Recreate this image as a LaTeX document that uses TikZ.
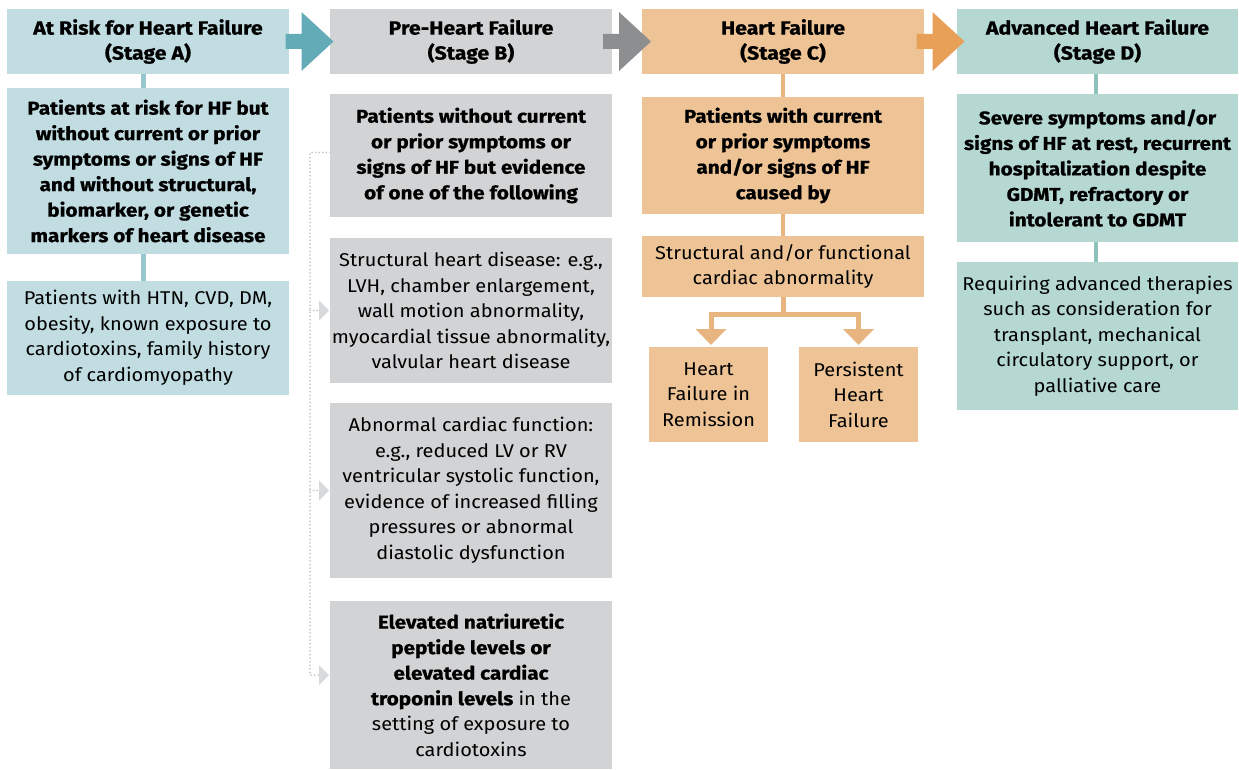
\documentclass[tikz,border=0pt]{standalone}
\usepackage{fontspec}
\setmainfont{Fira Sans}[UprightFeatures={FakeStretch=1.08},
  BoldFeatures={FakeStretch=1.12, FakeBold=0.8}]
\usetikzlibrary{calc,arrows.meta}

\definecolor{fillA}{RGB}{193,221,226}
\definecolor{lineA}{RGB}{150,199,207}
\definecolor{arrA}{RGB}{99,171,182}
\definecolor{fillB}{RGB}{210,211,213}
\definecolor{arrB}{RGB}{140,142,144}
\definecolor{dotB}{RGB}{200,201,203}
\definecolor{triB}{RGB}{216,217,219}
\definecolor{fillC}{RGB}{238,196,151}
\definecolor{lineC}{RGB}{232,180,128}
\definecolor{arrC}{RGB}{232,160,88}
\definecolor{fillD}{RGB}{181,217,210}
\definecolor{lineD}{RGB}{142,193,185}

\tikzset{
  box/.style={anchor=north west, inner sep=0pt, outer sep=0pt, align=center,
    font=\fontsize{18.5}{25.5}\selectfont},
  bbox/.style={box, font=\fontsize{18.5}{25.5}\selectfont\bfseries},
  hbox/.style={box, font=\fontsize{19}{25}\selectfont\bfseries},
  link/.style={line width=4.5pt},
  dotline/.style={dotB, line width=2pt, line cap=round, dash pattern=on 0pt off 3.6pt},
  branch/.style={lineC, line width=5pt, line join=miter,
    -{Triangle[width=30pt,length=16pt]}},
}

% block arrow centred in the gap between two header boxes
\newcommand{\stagearrow}[3]{%
  \fill[#1] ($(#2.east)!0.5!(#3.west)+(-24,-7.5)$) -- ++(16,0) -- ++(0,-22)
    -- ($(#2.east)!0.5!(#3.west)+(24,0)$)
    -- ($(#2.east)!0.5!(#3.west)+(-8,29.5)$) -- ++(0,-22) -- ++(-16,0) -- cycle;}

\begin{document}
\begin{tikzpicture}[x=1pt,y=-1pt]
\useasboundingbox (0,0) rectangle (1239,770);

% ---- Stage A ----
\node[hbox, fill=fillA, minimum width=282, minimum height=65] (a1) at (7,9)
  {At Risk for Heart Failure\\(Stage A)};
\node[bbox, fill=fillA, minimum width=282, minimum height=166] (a2) at (7,88)
  {Patients at risk for HF but\\without current or prior\\symptoms or signs of HF\\and without structural,\\biomarker, or genetic\\markers of heart disease};
\node[box, fill=fillA, minimum width=282, minimum height=114] (a3) at (7,281)
  {Patients with HTN, CVD, DM,\\obesity, known exposure to\\cardiotoxins, family history\\of cardiomyopathy};
\draw[link, lineA] ([xshift=-4.5pt]a1.south) -- ([xshift=-4.5pt]a2.north);
\draw[link, lineA] ([xshift=-4.5pt]a2.south) -- ([xshift=-4.5pt]a3.north);

% ---- Stage B ----
\node[hbox, fill=fillB, minimum width=282, minimum height=65] (b1) at (330,9)
  {Pre-Heart Failure\\(Stage B)};
\node[bbox, fill=fillB, minimum width=282, minimum height=123] (b2) at (330,94)
  {Patients without current\\or prior symptoms or\\signs of HF but evidence\\of one of the following};
\node[box, fill=fillB, minimum width=282, minimum height=145] (b3) at (330,238)
  {Structural heart disease: e.g.,\\LVH, chamber enlargement,\\wall motion abnormality,\\myocardial tissue abnormality,\\valvular heart disease};
\node[box, fill=fillB, minimum width=282, minimum height=175] (b4) at (330,403)
  {Abnormal cardiac function:\\e.g., reduced LV or RV\\ventricular systolic function,\\evidence of increased filling\\pressures or abnormal\\diastolic dysfunction};
\node[box, fill=fillB, minimum width=282, minimum height=168] (b5) at (330,601)
  {\textbf{Elevated natriuretic}\\\textbf{peptide levels or}\\\textbf{elevated cardiac}\\\textbf{troponin levels} in the\\setting of exposure to\\cardiotoxins};

% dotted rail feeding the three findings
\coordinate (rail) at (310,0);
\coordinate (b5in) at ([yshift=10pt]b5.west);
\draw[dotline] ([yshift=3pt]b2.west) -- ([yshift=3pt]b2.west -| rail) -- (b5in -| rail) -- ($(b5in)+(-11,0)$);
\draw[dotline] (b3.west -| rail) -- ($(b3.west)+(-11,0)$);
\draw[dotline] (b4.west -| rail) -- ($(b4.west)+(-11,0)$);
\foreach \t in {b3.west, b4.west, b5in}
  \fill[triB] ($(\t)+(-11,-10)$) -- ($(\t)+(-1,0)$) -- ($(\t)+(-11,10)$) -- cycle;

% ---- Stage C ----
\node[hbox, fill=fillC, minimum width=282, minimum height=65] (c1) at (642,9)
  {Heart Failure\\(Stage C)};
\node[bbox, fill=fillC, minimum width=282, minimum height=117] (c2) at (642,97)
  {Patients with current\\or prior symptoms\\and/or signs of HF\\caused by};
\node[box, fill=fillC, minimum width=282, minimum height=61] (c3) at (642,236)
  {Structural and/or functional\\cardiac abnormality};
\node[box, fill=fillC, minimum width=119, minimum height=95] (c4) at (649,347)
  {Heart\\Failure in\\Remission};
\node[box, fill=fillC, minimum width=119, minimum height=95] (c5) at (799,347)
  {Persistent\\Heart\\Failure};
\draw[link, lineC] (c1.south) -- (c2.north);
\draw[link, lineC] (c2.south) -- (c3.north);
\coordinate (split) at ($(c3.south)+(0,17)$);
\draw[lineC, line width=5pt] (c3.south) -- ([yshift=-2.5pt]split);
\draw[branch] (split) -| ($(c4.north)+(2.5,-2)$);
\draw[branch] (split) -| ($(c5.north)+(0,-2)$);

% ---- Stage D ----
\node[hbox, fill=fillD, minimum width=281, minimum height=65] (d1) at (957,9)
  {Advanced Heart Failure\\(Stage D)};
\node[bbox, fill=fillD, minimum width=281, minimum height=148] (d2) at (957,94)
  {Severe symptoms and/or\\signs of HF at rest, recurrent\\hospitalization despite\\GDMT, refractory or\\intolerant to GDMT};
\node[box, fill=fillD, minimum width=281, minimum height=148] (d3) at (957,262)
  {Requiring advanced therapies\\such as consideration for\\transplant, mechanical\\circulatory support, or\\palliative care};
\draw[link, lineD] ([xshift=-1.5pt]d1.south) -- ([xshift=-1.5pt]d2.north);
\draw[link, lineD] ([xshift=-1.5pt]d2.south) -- ([xshift=-1.5pt]d3.north);

% ---- progression arrows between stages ----
\stagearrow{arrA}{a1}{b1}
\stagearrow{arrB}{b1}{c1}
\stagearrow{arrC}{c1}{d1}
\end{tikzpicture}
\end{document}
